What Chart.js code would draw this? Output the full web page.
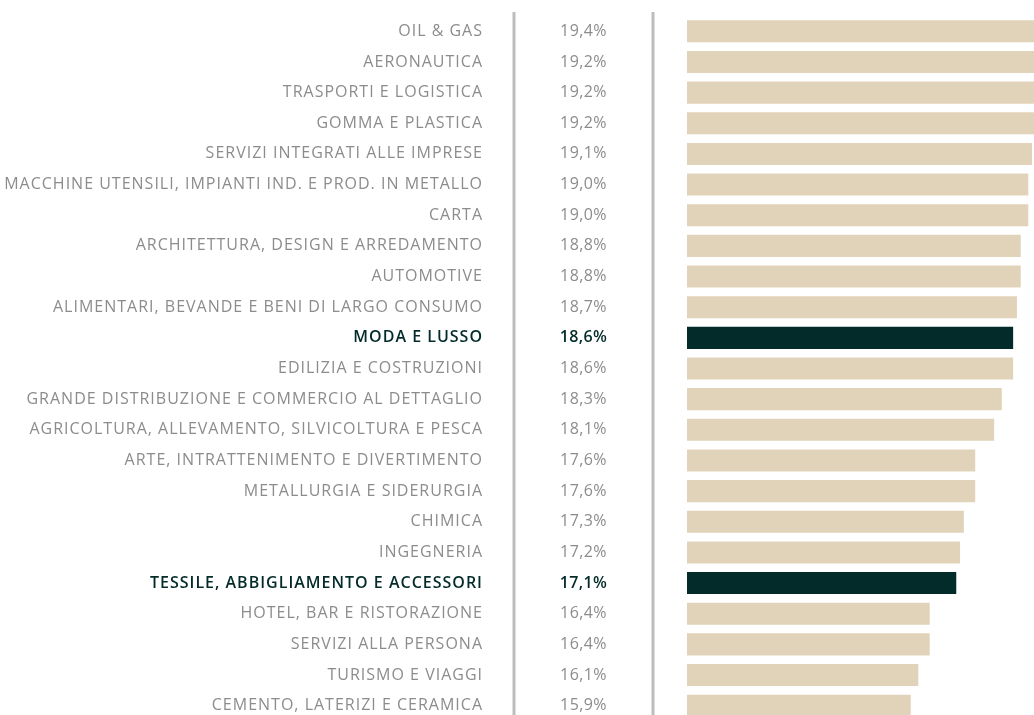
<!DOCTYPE html>
<html>
<head>
<meta charset="utf-8">
<script src="https://cdn.jsdelivr.net/npm/chart.js@4.4.0/dist/chart.umd.min.js"></script>
<style>
  html, body { margin: 0; padding: 0; background: #fff; overflow: hidden; }
  #wrap { width: 1034px; height: 721px; position: relative; }
</style>
</head>
<body>
<div id="wrap"><canvas id="chart"></canvas></div>
<script>
const categories = [
  'OIL & GAS',
  'AERONAUTICA',
  'TRASPORTI E LOGISTICA',
  'GOMMA E PLASTICA',
  'SERVIZI INTEGRATI ALLE IMPRESE',
  'MACCHINE UTENSILI, IMPIANTI IND. E PROD. IN METALLO',
  'CARTA',
  'ARCHITETTURA, DESIGN E ARREDAMENTO',
  'AUTOMOTIVE',
  'ALIMENTARI, BEVANDE E BENI DI LARGO CONSUMO',
  'MODA E LUSSO',
  'EDILIZIA E COSTRUZIONI',
  'GRANDE DISTRIBUZIONE E COMMERCIO AL DETTAGLIO',
  'AGRICOLTURA, ALLEVAMENTO, SILVICOLTURA E PESCA',
  'ARTE, INTRATTENIMENTO E DIVERTIMENTO',
  'METALLURGIA E SIDERURGIA',
  'CHIMICA',
  'INGEGNERIA',
  'TESSILE, ABBIGLIAMENTO E ACCESSORI',
  'HOTEL, BAR E RISTORAZIONE',
  'SERVIZI ALLA PERSONA',
  'TURISMO E VIAGGI',
  'CEMENTO, LATERIZI E CERAMICA'
];
const values = [19.4, 19.2, 19.2, 19.2, 19.1, 19.0, 19.0, 18.8, 18.8, 18.7, 18.6, 18.6,
  18.3, 18.1, 17.6, 17.6, 17.3, 17.2, 17.1, 16.4, 16.4, 16.1, 15.9];
const highlighted = ['MODA E LUSSO', 'TESSILE, ABBIGLIAMENTO E ACCESSORI'];

const beige = '#e1d3b9';
const dark = '#022b29';
const grey = '#8c8c8c';
const fontFamily = '"Open Sans", Lato, sans-serif';

const isHi = (i) => highlighted.includes(categories[i]);
const fmt = (v) => v.toFixed(1).replace('.', ',') + '%';

// labels in the original are a bit more spaced out
const spacing = {
  id: 'spacing',
  beforeDraw(chart) {
    chart.ctx.letterSpacing = '1px';
  }
};

// draws the separators and the value column
const valueColumn = {
  id: 'valueColumn',
  afterDraw(chart) {
    const ctx = chart.ctx;
    const y = chart.scales.y;
    ctx.save();
    ctx.letterSpacing = '0.4px';
    ctx.strokeStyle = '#bdbdbd';
    ctx.lineWidth = 3;
    [514, 653].forEach((x) => {
      ctx.beginPath();
      ctx.moveTo(x, 12);
      ctx.lineTo(x, chart.height);
      ctx.stroke();
    });
    ctx.textAlign = 'center';
    ctx.textBaseline = 'middle';
    values.forEach((v, i) => {
      ctx.font = (isHi(i) ? '600 ' : '') + '16px ' + fontFamily;
      ctx.fillStyle = isHi(i) ? dark : grey;
      ctx.fillText(fmt(v), 583.5, y.getPixelForValue(i));
    });
    ctx.restore();
    ctx.letterSpacing = '0px';
  }
};

new Chart(document.getElementById('chart'), {
  type: 'bar',
  data: {
    labels: categories,
    datasets: [{
      data: values,
      backgroundColor: categories.map((c, i) => (isHi(i) ? dark : beige)),
      categoryPercentage: 1,
      barPercentage: 0.72,
      borderWidth: 0
    }]
  },
  options: {
    indexAxis: 'y',
    responsive: true,
    maintainAspectRatio: false,
    animation: false,
    layout: { padding: { top: 16, bottom: 0, left: 0, right: 0 } },
    plugins: { legend: { display: false }, tooltip: { enabled: false } },
    scales: {
      x: { display: false, min: 10, max: 19.15 },
      y: {
        border: { display: false },
        grid: { display: false, drawTicks: false },
        afterFit: (scale) => {
          scale.width = 687;
          scale.paddingTop = 0;
          scale.paddingBottom = 0;
        },
        ticks: {
          padding: 204,
          autoSkip: false,
          color: (c) => (isHi(c.index) ? dark : grey),
          font: (c) => ({ family: fontFamily, size: 16, weight: isHi(c.index) ? '600' : 'normal' })
        }
      }
    }
  },
  plugins: [spacing, valueColumn]
});
</script>
</body>
</html>
